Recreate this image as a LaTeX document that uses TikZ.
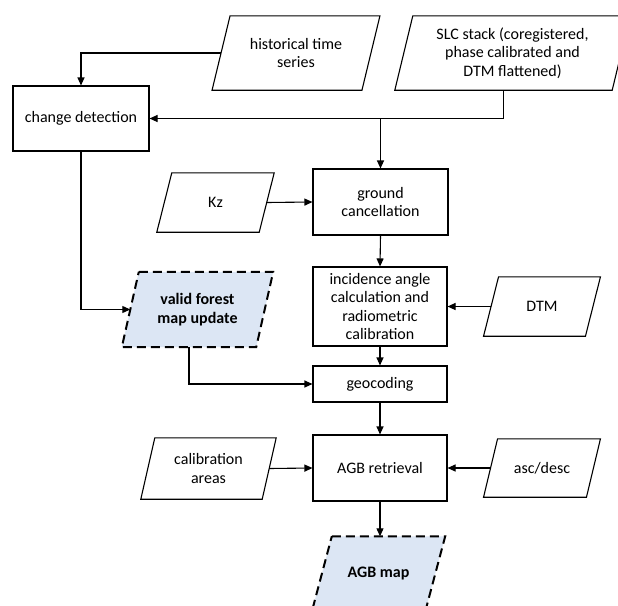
\documentclass[tikz,border=0pt]{standalone}
\usepackage{fontspec}
\setmainfont{Carlito}
\usetikzlibrary{arrows.meta,backgrounds}
\definecolor{fillblue}{HTML}{DCE6F4}
\tikzset{
  base/.style={inner sep=0pt, align=center, font=\fontsize{16}{18.3}\selectfont},
  box/.style={base, draw, line width=1.1pt},
  io/.style={base},
  para/.style={draw, line width=1.1pt, fill=white},
  dpara/.style={draw, line width=2pt, dash pattern=on 9pt off 5pt, fill=fillblue},
  arr/.style={line width=1.1pt, -{Triangle[length=8pt,width=7pt]}}
}
\newcommand\parashape[3]{%
  \path[#1] ([xshift=#3]#2.north west) -- ([xshift=#3]#2.north east) -- ([xshift=-#3]#2.south east) -- ([xshift=-#3]#2.south west) -- cycle;}
\begin{document}
\begin{tikzpicture}[x=1pt,y=-1pt]
\clip (0,0) rectangle (618,605);
% process boxes
\node[box, minimum width=136pt, minimum height=65pt] (cd) at (81,118.5) {change detection};
\node[box, minimum width=135pt, minimum height=66pt] (gc) at (380.5,202) {ground\\cancellation};
\node[box, minimum width=134pt, minimum height=79pt] (inc) at (380,306.5) {incidence angle\\calculation and\\radiometric\\calibration};
\node[box, minimum width=134pt, minimum height=36pt] (geo) at (380,384) {geocoding};
\node[box, minimum width=134pt, minimum height=66pt] (agb) at (380,468) {AGB retrieval};
% data nodes
\node[io, minimum width=149.5pt, minimum height=74pt] (hist) at (296,53) {historical time\\series};
\node[io, minimum width=217pt, minimum height=74pt] (slc) at (512.5,53) {SLC stack (coregistered,\\phase calibrated and\\DTM flattened)};
\node[io, minimum width=102pt, minimum height=59pt] (kz) at (215.5,202.5) {Kz};
\node[io, minimum width=101.5pt, minimum height=59pt] (dtm) at (542,306.5) {DTM};
\node[io, minimum width=134pt, minimum height=75pt, font=\fontsize{16}{18.3}\selectfont\bfseries] (vfm) at (197.5,309.5) {valid forest\\map update};
\node[io, minimum width=121pt, minimum height=61pt] (cal) at (208.5,468.5) {calibration\\areas};
\node[io, minimum width=102.5pt, minimum height=58pt] (asc) at (542,468) {asc/desc};
\node[io, minimum width=113pt, minimum height=75pt, font=\fontsize{16}{18.3}\selectfont\bfseries] (map) at (378.5,574) {AGB map};
\begin{scope}[on background layer]
  \fill[white] (0,0) rectangle (618,605);
  \parashape{para}{hist}{9pt}
  \parashape{para}{slc}{9pt}
  \parashape{para}{kz}{7.5pt}
  \parashape{para}{dtm}{7.5pt}
  \parashape{dpara}{vfm}{8.5pt}
  \parashape{para}{cal}{7pt}
  \parashape{para}{asc}{7pt}
  \parashape{dpara}{map}{10pt}
\end{scope}
% connectors
\draw[arr] (hist.west) -| (cd.north);
\draw[arr] ([xshift=-9pt]slc.south) |- (cd.east);
\draw[arr] (gc.north |- cd.east) -- (gc.north);
\draw[arr] (kz.east) -- (gc.west);
\draw[arr] (gc.south) -- (inc.north);
\draw[arr] (dtm.west) -- (inc.east);
\draw[arr] (cd.south) |- (vfm.west);
\draw[arr] ([xshift=-8.5pt]vfm.south) |- (geo.west);
\draw[arr] (inc.south) -- (geo.north);
\draw[arr] (geo.south) -- (agb.north);
\draw[arr] (cal.east) -- (agb.west);
\draw[arr] (asc.west) -- (agb.east);
\draw[arr] (agb.south) -- (agb.south |- map.north);
\end{tikzpicture}
\end{document}
